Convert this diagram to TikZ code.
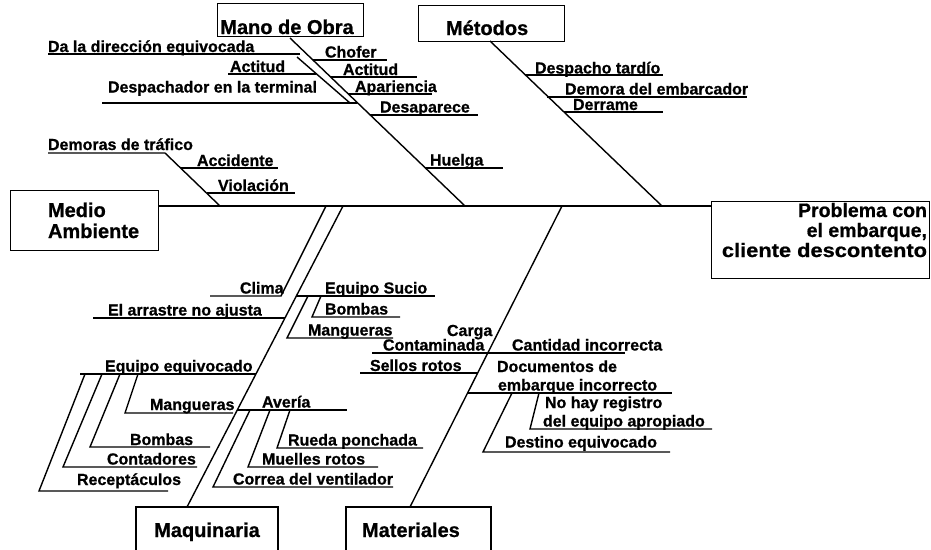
\documentclass[tikz,border=0pt]{standalone}
\usepackage{fontspec}
\setmainfont{Liberation Sans}[BoldFeatures={FakeBold=0.8}]
\newcommand{\lblfont}{\bfseries\fontsize{16}{19}\selectfont}
\newcommand{\ttlfont}{\bfseries\fontsize{20}{22}\selectfont}
\newcommand{\probfont}{\bfseries\fontsize{19.5}{22}\selectfont}
\begin{document}
\begin{tikzpicture}[x=1pt,y=-1pt,
  bone/.style={line width=1.4pt},
  boxline/.style={line width=1.4pt},
  lbl/.style={font=\lblfont, anchor=base west, inner sep=0pt, outer sep=0pt},
  ttl/.style={font=\ttlfont, anchor=base west, inner sep=0pt, outer sep=0pt},
  prob/.style={font=\probfont, anchor=base east, inner sep=0pt, outer sep=0pt}]
\fill[white] (0,0) rectangle (931,549);
\useasboundingbox (0,0) rectangle (931,549);

% ---------- boxes ----------
\node[boxline, draw, anchor=north west, minimum width=146pt, minimum height=33pt, inner sep=0pt] (manobox) at (217,3) {};
\node[boxline, draw, anchor=north west, minimum width=146pt, minimum height=36pt, inner sep=0pt] (metbox) at (418,5) {};
\node[boxline, draw, anchor=north west, minimum width=148pt, minimum height=60pt, inner sep=0pt] (medbox) at (10,190) {};
\node[boxline, draw, anchor=north west, minimum width=218pt, minimum height=77pt, inner sep=0pt] (probbox) at (711,201) {};
\draw[boxline] (136,552) -- (136,507) -- (278,507) -- (278,552);
\draw[boxline] (346,552) -- (346,507) -- (491,507) -- (491,552);

% ---------- box titles ----------
\node[ttl, anchor=base] (mano) at (287,34) {Mano de Obra};
\node[ttl] (metodos) at (446,35) {Métodos};
\node[ttl] (medio1) at (48,217) {Medio};
\node[ttl] (medio2) at (48,238) {Ambiente};
\node[prob] (prob1) at (927,217) {Problema con};
\node[prob] (prob2) at (927,237) {el embarque,};
\node[prob] (prob3) at (927,257) {\scalebox{1.12}[1]{cliente descontento}};
\node[ttl, anchor=base] (maquinaria) at (207,537) {Maquinaria};
\node[ttl] (materiales) at (362,537) {Materiales};

% ---------- spine ----------
\coordinate (spL) at (158,206);
\coordinate (spR) at (711,206);
\draw[bone] (spL) -- (spR);

% ---------- Mano de Obra ----------
\coordinate (m0) at (290,38);
\coordinate (m1) at (465,206);
\draw[bone] (m0) -- (m1);
\draw[bone] (313,60) -- (387,60);
\draw[bone] (331,77) -- (417,77);
\draw[bone] (348,94) -- (432,94);
\draw[bone] (370,115) -- (478,115);
\draw[bone] (425,168) -- (503,168);
\draw[bone] (48,54) -- (300,54);
\draw[bone] (297,57) -- (350,103);
\draw[bone] (228,74) -- (316,74);
\draw[bone] (102,103) -- (357,103);

\node[lbl] (t1) at (48,52) {Da la dirección equivocada};
\node[lbl] (t2) at (230,72) {Actitud};
\node[lbl] (t3) at (108,92.5) {Despachador en la terminal};
\node[lbl] (t4) at (325,57.5) {Chofer};
\node[lbl] (t5) at (343,75) {Actitud};
\node[lbl] (t6) at (355,92) {Apariencia};
\node[lbl] (t7) at (380,112.5) {Desaparece};
\node[lbl] (t8) at (430,165.5) {Huelga};

% ---------- Métodos ----------
\coordinate (t0) at (490,41);
\coordinate (tt1) at (662,206);
\draw[bone] (t0) -- (tt1);
\draw[bone] (525,75) -- (663,75);
\draw[bone] (547,97) -- (747,97);
\draw[bone] (564,112) -- (663,112);
\node[lbl] (u1) at (535,73.5) {Despacho tardío};
\node[lbl] (u2) at (565,94.5) {Demora del embarcador};
\node[lbl] (u3) at (573,110) {Derrame};

% ---------- Medio Ambiente ----------
\draw[bone] (48,153) -- (165,153) -- (220,206);
\draw[bone] (181,168) -- (278,168);
\draw[bone] (207,193) -- (295,193);
\node[lbl] (v1) at (48,150) {Demoras de tráfico};
\node[lbl] (v2) at (197,166) {Accidente};
\node[lbl] (v3) at (218,191) {Violación};

% ---------- Maquinaria ----------
\coordinate (q0) at (343,206);
\coordinate (q1) at (187,507);
\draw[bone] (q0) -- (q1);
\draw[bone] (210,296) -- (281,296) -- (326,206);
\draw[bone] (93,318) -- (285,318);
\draw[bone] (296,296) -- (435,296);
\draw[bone] (308,296) -- (287,338) -- (393,338);
\draw[bone] (321,296) -- (312,317) -- (400,317);
\draw[bone] (80,374) -- (256,374);
\draw[bone] (138,374) -- (125,413) -- (233,413);
\draw[bone] (120,374) -- (90,447) -- (210,447);
\draw[bone] (102,374) -- (63,467) -- (197,467);
\draw[bone] (85,374) -- (39,491) -- (168,491);
\draw[bone] (237,410) -- (347,410);
\draw[bone] (250,410) -- (213,487) -- (393,487);
\draw[bone] (270,410) -- (248,467) -- (378,467);
\draw[bone] (290,410) -- (277,448) -- (423,448);

\node[lbl] (w1) at (240,293.5) {Clima};
\node[lbl] (w2) at (108,315.5) {El arrastre no ajusta};
\node[lbl] (w3) at (325,293.5) {Equipo Sucio};
\node[lbl] (w4) at (325,314.5) {Bombas};
\node[lbl] (w5) at (308,335.5) {Mangueras};
\node[lbl] (w6) at (105,371.5) {Equipo equivocado};
\node[lbl] (w7) at (150,410) {Mangueras};
\node[lbl] (w8) at (130,445) {Bombas};
\node[lbl] (w9) at (107,464.5) {Contadores};
\node[lbl] (w10) at (77,485) {Receptáculos};
\node[lbl] (w11) at (262,407.5) {Avería};
\node[lbl] (w12) at (288,445.5) {Rueda ponchada};
\node[lbl] (w13) at (262,464.5) {Muelles rotos};
\node[lbl] (w14) at (233,484.5) {Correa del ventilador};

% ---------- Materiales ----------
\coordinate (r0) at (562,206);
\coordinate (r1) at (410,507);
\draw[bone] (r0) -- (r1);
\draw[bone] (372,353) -- (625,353);
\draw[bone] (360,373) -- (478,373);
\draw[bone] (468,393) -- (672,393);
\draw[bone] (539,393) -- (530,429) -- (712,429);
\draw[bone] (512,393) -- (483,452) -- (670,452);

\node[lbl] (x1) at (447,336) {Carga};
\node[lbl] (x2) at (383,350.5) {Contaminada};
\node[lbl] (x3) at (512,350.5) {Cantidad incorrecta};
\node[lbl] (x4) at (370,371) {Sellos rotos};
\node[lbl] (x5) at (497,372) {Documentos de};
\node[lbl] (x6) at (498,390.5) {embarque incorrecto};
\node[lbl] (x7) at (545,408) {No hay registro};
\node[lbl] (x8) at (543,426.5) {del equipo apropiado};
\node[lbl] (x9) at (505,447.5) {Destino equivocado};
\end{tikzpicture}
\end{document}
